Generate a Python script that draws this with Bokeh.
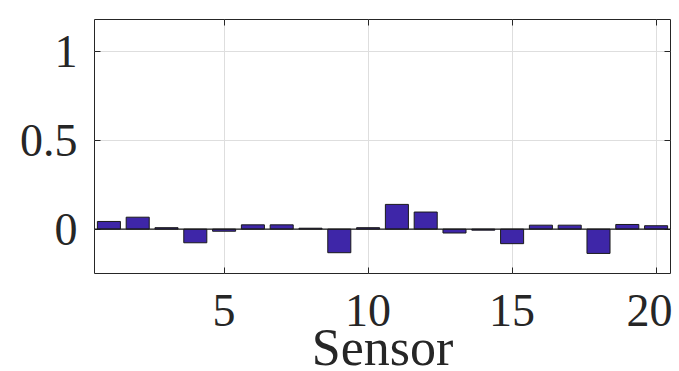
from bokeh.plotting import figure
from bokeh.models import LinearAxis, Span, FixedTicker, Range1d
from bokeh.embed import file_html
from bokeh.resources import INLINE

sensors = list(range(1, 21))
values = [0.043, 0.067, 0.008, -0.077, -0.012, 0.024, 0.024, 0.005, -0.133, 0.008,
          0.139, 0.096, -0.022, -0.006, -0.082, 0.022, 0.022, -0.137, 0.026, 0.019]
x_ticks = [5, 10, 15, 20]
y_ticks = [0, 0.5, 1]

FONT = "Liberation Serif"
TXT = "#262626"

p = figure(frame_width=576, frame_height=254, output_backend="svg", toolbar_location=None,
           x_range=Range1d(0.5, 20.5), y_range=Range1d(-0.25, 1.18),
           min_border_left=94, min_border_top=19, min_border_right=2, min_border_bottom=0)
p.outline_line_color = TXT
p.outline_line_width = 1
p.background_fill_color = "white"
p.border_fill_color = "white"

p.vbar(x=sensors, top=values, bottom=0, width=0.8, fill_color="#3e26a8",
       line_color="#1a1a1a", line_width=1)
p.add_layout(Span(location=0, dimension="width", line_color="#1a1a1a", line_width=1.2))

for ax in (p.xaxis[0], p.yaxis[0]):
    ax.major_tick_in = 6
    ax.major_tick_out = 0
    ax.minor_tick_line_color = None
    ax.axis_line_color = None
    ax.major_tick_line_color = TXT
    ax.major_label_text_font = FONT
    ax.major_label_text_font_size = "46px"
    ax.major_label_text_color = TXT

p.xaxis[0].ticker = FixedTicker(ticks=x_ticks)
p.yaxis[0].ticker = FixedTicker(ticks=y_ticks)
p.yaxis[0].major_label_overrides = {0: "0", 0.5: "0.5", 1: "1"}
p.xaxis[0].major_label_standoff = 21
p.yaxis[0].major_label_standoff = 17
p.xaxis[0].axis_label = "Sensor"
p.xaxis[0].axis_label_text_font = FONT
p.xaxis[0].axis_label_text_font_style = "normal"
p.xaxis[0].axis_label_text_font_size = "52px"
p.xaxis[0].axis_label_text_color = TXT
p.xaxis[0].axis_label_standoff = -10

top_ax = LinearAxis(ticker=FixedTicker(ticks=x_ticks))
right_ax = LinearAxis(ticker=FixedTicker(ticks=y_ticks))
for ax in (top_ax, right_ax):
    ax.major_tick_in = 6
    ax.major_tick_out = 0
    ax.minor_tick_line_color = None
    ax.axis_line_color = None
    ax.major_tick_line_color = TXT
    ax.major_label_text_font_size = "1px"
    ax.major_label_text_color = None
    ax.major_label_standoff = 0
p.add_layout(top_ax, "above")
p.add_layout(right_ax, "right")

p.xgrid.ticker = FixedTicker(ticks=x_ticks)
p.ygrid.ticker = FixedTicker(ticks=y_ticks)
p.grid.grid_line_color = "#dedede"
p.grid.grid_line_width = 1

open("out.html", "w").write(file_html(p, INLINE))
